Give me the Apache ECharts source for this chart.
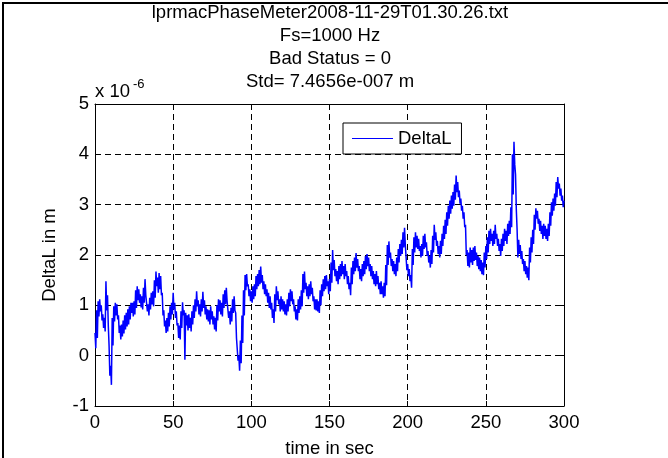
<!DOCTYPE html>
<html>
<head>
<meta charset="utf-8">
<script src="https://cdn.jsdelivr.net/npm/echarts@6/dist/echarts.min.js"></script>
<style>
html, body { margin: 0; padding: 0; background: #fff; }
#main { width: 668px; height: 458px; }
</style>
</head>
<body>
<div id="main"></div>
<script>
// title lines
var titleLines = ['lprmacPhaseMeter2008-11-29T01.30.26.txt', 'Fs=1000 Hz', 'Bad Status = 0', 'Std= 7.4656e-007 m'];
var xTicks = [0, 50, 100, 150, 200, 250, 300];
var yTicks = [-1, 0, 1, 2, 3, 4, 5];

// DeltaL (x 1e-6 m), upper and lower edge of the noisy trace, one per second 0..300
var upper = [
	0.45,0.9,1.08,1.12,1.0,0.82,0.75,1.48,1.2,0.2,
	-0.2,0.75,0.98,1.05,1.02,0.8,0.6,0.62,0.7,0.8,
	0.85,0.92,0.98,1.05,1.05,1.08,1.3,1.38,1.32,1.22,
	1.18,1.35,1.52,1.2,1.02,1.15,1.25,1.28,1.5,1.67,
	1.55,1.64,1.58,1.25,0.9,0.7,0.75,0.85,0.98,1.05,
	1.25,1.05,0.88,0.65,0.6,0.88,1.06,0.9,0.85,0.8,
	0.82,0.75,0.88,1.0,1.12,1.28,1.1,1.02,1.12,1.27,
	1.1,0.98,0.92,0.9,0.98,0.88,0.78,0.75,1.0,1.12,
	1.1,1.05,1.22,1.3,1.35,1.05,0.88,0.95,1.12,1.18,
	0.85,0.35,0.0,0.3,0.8,1.3,1.6,1.62,1.42,1.32,
	1.28,1.38,1.42,1.58,1.62,1.7,1.77,1.6,1.48,1.42,
	1.32,1.25,1.18,1.05,0.92,1.22,1.38,1.28,1.12,1.18,
	1.12,1.08,1.02,1.12,1.25,1.32,1.28,1.12,0.98,0.92,
	1.12,1.18,1.3,1.62,1.67,1.45,1.38,1.42,1.48,1.35,
	1.18,1.12,1.12,1.08,1.3,1.42,1.52,1.58,1.6,1.48,
	1.52,1.85,2.1,1.9,1.72,1.68,1.78,1.82,1.88,1.78,
	1.82,1.68,1.58,1.45,1.75,1.88,1.95,2.04,1.92,1.78,
	1.72,1.82,1.88,1.98,2.02,1.95,1.82,1.78,1.68,1.62,
	1.68,1.58,1.45,1.48,1.38,1.45,1.8,2.2,2.27,2.05,
	1.92,1.88,1.82,1.95,2.12,2.22,2.3,2.45,2.54,2.2,
	1.82,1.72,1.6,2.12,2.35,2.45,2.38,2.32,2.18,2.22,
	2.38,2.42,2.25,2.08,1.98,2.1,2.38,2.6,2.45,2.28,
	2.18,2.28,2.42,2.58,2.7,2.85,2.98,3.08,3.18,3.25,
	3.4,3.58,3.45,3.28,3.12,2.98,2.85,2.6,2.1,2.05,
	2.15,2.1,2.15,2.18,2.05,1.98,1.95,1.9,1.85,2.05,
	2.18,2.35,2.48,2.52,2.42,2.48,2.6,2.42,2.32,2.22,
	2.32,2.42,2.52,2.48,2.62,2.68,2.95,4.0,4.25,3.6,
	2.5,2.3,2.2,2.08,1.92,1.88,1.78,1.75,2.15,2.35,
	2.5,2.8,2.93,2.88,2.72,2.68,2.58,2.62,2.58,2.52,
	2.62,2.85,3.05,3.12,3.22,3.45,3.55,3.42,3.32,3.18,
	3.08
];
var lower = [
	0.15,0.35,0.78,0.88,0.7,0.55,0.48,0.9,0.6,-0.4,
	-0.58,0.2,0.68,0.8,0.72,0.45,0.32,0.38,0.44,0.52,
	0.58,0.62,0.72,0.85,0.78,0.82,0.95,1.1,1.05,0.96,
	0.92,1.05,1.2,0.88,0.8,0.92,1.02,0.98,1.15,1.38,
	1.25,1.32,1.2,0.8,0.58,0.45,0.48,0.58,0.72,0.82,
	0.92,0.75,0.6,0.35,0.32,0.55,0.8,-0.08,0.6,0.5,
	0.55,0.48,0.62,0.75,0.88,0.98,0.82,0.78,0.88,0.95,
	0.82,0.72,0.68,0.62,0.72,0.62,0.52,0.48,0.7,0.88,
	0.82,0.78,0.95,1.02,1.08,0.75,0.62,0.68,0.85,0.9,
	0.35,-0.1,-0.3,-0.15,0.25,0.8,1.3,1.38,1.18,1.08,
	1.05,1.12,1.18,1.32,1.38,1.42,1.45,1.32,1.22,1.18,
	1.05,0.95,0.92,0.75,0.65,0.88,1.1,1.02,0.88,0.92,
	0.88,0.82,0.8,0.88,0.98,1.08,1.02,0.88,0.72,0.7,
	0.85,0.92,0.98,1.25,1.32,1.18,1.12,1.18,1.22,1.08,
	0.92,0.9,0.88,0.85,1.0,1.18,1.28,1.32,1.38,1.22,
	1.28,1.45,1.7,1.58,1.48,1.42,1.52,1.58,1.62,1.52,
	1.58,1.42,1.32,1.2,1.42,1.62,1.68,1.75,1.68,1.52,
	1.48,1.58,1.62,1.72,1.78,1.68,1.58,1.52,1.42,1.38,
	1.42,1.32,1.22,1.22,1.15,1.18,1.4,1.8,1.95,1.78,
	1.68,1.62,1.58,1.68,1.85,1.98,2.02,2.15,2.2,1.7,
	1.58,1.48,1.35,1.8,2.05,2.15,2.12,2.08,1.95,1.98,
	2.12,2.15,1.98,1.85,1.75,1.82,2.05,2.3,2.18,2.02,
	1.95,2.02,2.18,2.32,2.42,2.58,2.72,2.82,2.92,2.98,
	3.1,3.25,3.15,3.02,2.88,2.72,2.55,2.0,1.78,1.75,
	1.85,1.8,1.88,1.9,1.78,1.72,1.68,1.62,1.6,1.75,
	1.92,2.05,2.22,2.28,2.18,2.22,2.32,2.18,2.08,1.98,
	2.08,2.18,2.28,2.22,2.38,2.42,2.55,3.2,3.8,2.9,
	1.95,2.02,1.92,1.82,1.68,1.62,1.55,1.5,1.85,2.05,
	2.22,2.5,2.72,2.62,2.48,2.42,2.32,2.38,2.32,2.28,
	2.38,2.58,2.78,2.88,2.98,3.15,3.32,3.18,3.08,2.95,
	2.92
];

var font = 'Liberation Sans, Arial, sans-serif';
var fs = 18.5;

function buildTrace(){
	var pts = [];
	for (var i = 0; i < upper.length; i++) {
		pts.push([i, upper[i]]);
		if (i < upper.length - 1) pts.push([i + 0.5, lower[i]]);
	}
	return pts;
}

function chartInit(objId){
	var dom = document.getElementById(objId);
	var myChart = echarts.init(dom, null, {renderer: 'canvas'});
	var axisLine = {show: true, onZero: false, lineStyle: {color: '#000', width: 1}};
	var tick = {show: true, inside: true, length: 5, lineStyle: {color: '#000'}};
	var grid = {show: true, lineStyle: {color: '#000', type: [6, 4], width: 1}};
	var labels = {color: '#000', fontSize: fs, fontFamily: font};
	var g = [];
	for (var k = 0; k < titleLines.length; k++) {
		g.push({type: 'text', x: 330, y: 13 + k * 23, style: {text: titleLines[k], fill: '#000', font: fs + 'px ' + font, textAlign: 'center', textVerticalAlign: 'middle'}});
	}
	g.push({type: 'text', x: 95, y: 92, style: {text: 'x 10', fill: '#000', font: fs + 'px ' + font, textAlign: 'left', textVerticalAlign: 'middle'}});
	g.push({type: 'text', x: 133, y: 84, style: {text: '-6', fill: '#000', font: '13px ' + font, textAlign: 'left', textVerticalAlign: 'middle'}});
	// figure frame: top and left edges
	g.push({type: 'line', shape: {x1: 2, y1: 3, x2: 668, y2: 3}, style: {stroke: '#000', lineWidth: 2}});
	g.push({type: 'line', shape: {x1: 3, y1: 2, x2: 3, y2: 458}, style: {stroke: '#000', lineWidth: 2}});

	var option = {
		animation: false,
		backgroundColor: '#fff',
		graphic: g,
		legend: {
			data: ['DeltaL'],
			left: 343,
			top: 123,
			padding: [6, 10, 6, 9],
			backgroundColor: '#fff',
			borderColor: '#000',
			borderWidth: 1,
			borderRadius: 0,
			icon: 'rect',
			itemWidth: 41,
			itemHeight: 1,
			itemGap: 0,
			itemStyle: {color: '#0000ff', borderWidth: 0},
			lineStyle: {color: '#0000ff'},
			textStyle: {color: '#000', fontSize: fs, fontFamily: font}
		},
		grid: {left: 95, right: 104, top: 104, bottom: 52, containLabel: false, outerBoundsMode: 'none'},
		xAxis: [{
			type: 'value', min: xTicks[0], max: xTicks[xTicks.length - 1], interval: 50,
			position: 'bottom',
			name: 'time in sec', nameLocation: 'middle', nameGap: 33,
			nameTextStyle: {color: '#000', fontSize: fs, fontFamily: font},
			axisLine: axisLine, axisTick: tick, splitLine: grid,
			axisLabel: Object.assign({margin: 7}, labels)
		}, {
			type: 'value', min: xTicks[0], max: xTicks[xTicks.length - 1], interval: 50,
			position: 'top',
			axisLine: axisLine, axisTick: tick, splitLine: {show: false},
			axisLabel: {show: false}
		}],
		yAxis: [{
			type: 'value', min: yTicks[0], max: yTicks[yTicks.length - 1], interval: 1,
			position: 'left',
			name: 'DeltaL in m', nameLocation: 'middle', nameGap: 36, nameRotate: 90,
			nameTextStyle: {color: '#000', fontSize: fs, fontFamily: font},
			axisLine: axisLine, axisTick: tick, splitLine: grid,
			axisLabel: Object.assign({margin: 6}, labels)
		}, {
			type: 'value', min: yTicks[0], max: yTicks[yTicks.length - 1], interval: 1,
			position: 'right',
			axisLine: axisLine, axisTick: tick, splitLine: {show: false},
			axisLabel: {show: false}
		}],
		series: [{
			name: 'DeltaL',
			type: 'line',
			data: buildTrace(),
			showSymbol: false,
			symbol: 'none',
			sampling: null,
			color: '#0000ff',
			itemStyle: {color: '#0000ff'},
			lineStyle: {color: '#0000ff', width: 1.5},
			z: 3
		}]
	};
	myChart.setOption(option, true);
	return myChart;
}

chartInit('main');
</script>
</body>
</html>
